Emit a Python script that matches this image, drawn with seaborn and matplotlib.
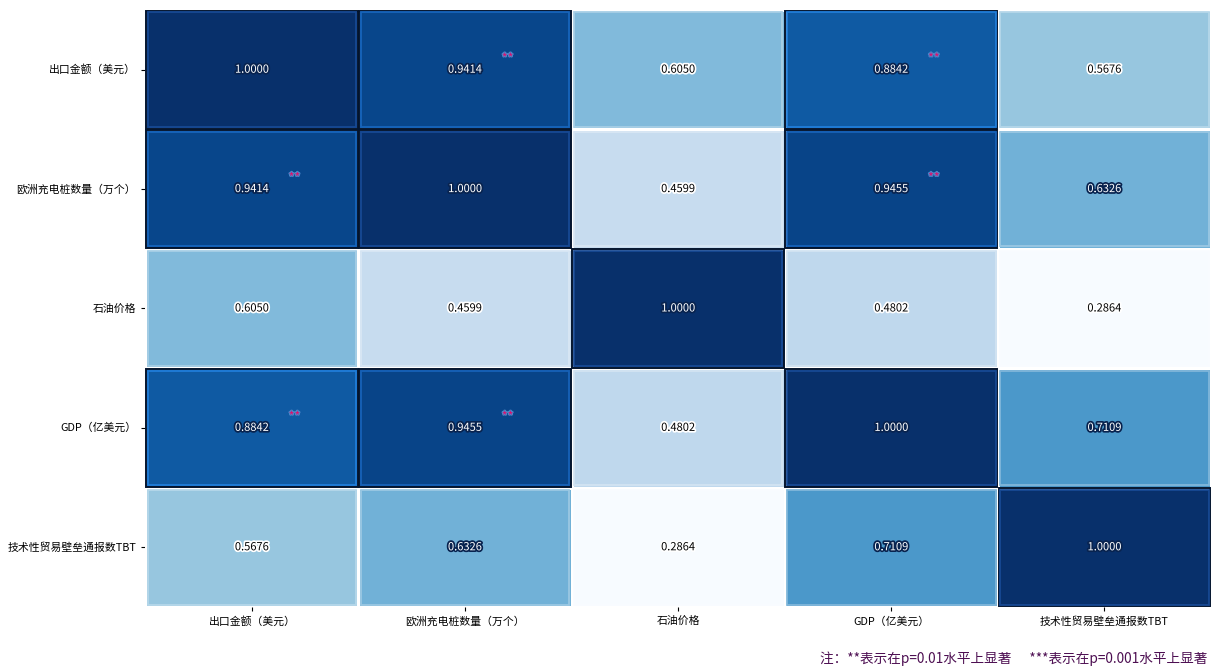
import numpy as np
import pandas as pd
import matplotlib
matplotlib.use("Agg")
import matplotlib.pyplot as plt
import matplotlib.patheffects as pe
from matplotlib.patches import Rectangle
import matplotlib.colors as mcolors
import seaborn as sns

labels = ["出口金额（美元）", "欧洲充电桩数量（万个）", "石油价格", "GDP（亿美元）", "技术性贸易壁垒通报数TBT"]
row0 = [1.0000, 0.9414, 0.6050, 0.8842, 0.5676]
row1 = [0.9414, 1.0000, 0.4599, 0.9455, 0.6326]
row2 = [0.6050, 0.4599, 1.0000, 0.4802, 0.2864]
row3 = [0.8842, 0.9455, 0.4802, 1.0000, 0.7109]
row4 = [0.5676, 0.6326, 0.2864, 0.7109, 1.0000]
stars = [["", "**", "", "**", ""],
         ["**", "", "", "**", ""],
         ["", "", "", "", ""],
         ["**", "**", "", "", ""],
         ["", "", "", "", ""]]
note = "注：**表示在p=0.01水平上显著      ***表示在p=0.001水平上显著"

sns.set_style("white")
plt.rcParams['font.family'] = ['Noto Sans CJK SC', 'DejaVu Sans']
plt.rcParams['axes.unicode_minus'] = False

df = pd.DataFrame([row0, row1, row2, row3, row4], index=labels, columns=labels)
vmin = float(np.min(df.values))
vmax = 1.0

fig = plt.figure(figsize=(12.11, 6.67), dpi=100)
ax = fig.add_axes([0.12, 0.09, 0.88, 0.895])
cmap = plt.get_cmap("Blues")
sns.heatmap(df, ax=ax, cmap=cmap, vmin=vmin, vmax=vmax, cbar=False,
            linewidths=2, linecolor="white", annot=False)

norm = mcolors.Normalize(vmin=vmin, vmax=vmax)
n = len(labels)
for i in range(n):
    for j in range(n):
        v = df.values[i, j]
        c = np.array(cmap(norm(v))[:3])
        light = c + (1 - c) * 0.3
        if v > 0.8:
            ax.add_patch(Rectangle((j + 0.003, i + 0.005), 0.994, 0.99, fill=False,
                                   edgecolor="#03142e", lw=1.4, zorder=3))
            light = np.clip(c * 1.25 + 0.05, 0, 1)
        ax.add_patch(Rectangle((j + 0.011, i + 0.02), 0.978, 0.96, fill=False,
                               edgecolor=light, lw=1.3, zorder=3))
        if v > 0.62:
            tc, sc = "white", "#08234f"
        else:
            tc, sc = "black", "white"
        ax.text(j + 0.5, i + 0.5, f"{v:.4f}", ha="center", va="center", fontsize=8,
                color=tc, zorder=4,
                path_effects=[pe.withStroke(linewidth=2.5, foreground=sc)])
        if stars[i][j]:
            ax.text(j + 0.7, i + 0.41, stars[i][j], ha="center", va="center", fontsize=9,
                    color="#e0106e", zorder=4,
                    path_effects=[pe.withStroke(linewidth=1.5, foreground="#4a86c8")])

ax.tick_params(axis="both", which="both", length=3, width=0.8, colors="black",
               labelsize=7.8, bottom=True, left=True)
ax.set_xticklabels(labels, rotation=0, fontsize=7.8)
ax.set_yticklabels(labels, rotation=0, fontsize=7.8)
ax.set_xlabel("")
ax.set_ylabel("")

fig.text(0.677, 0.002, note, fontsize=9.8, color="#4d0f52", ha="left", va="bottom")

fig.savefig("out.png", dpi=100)
